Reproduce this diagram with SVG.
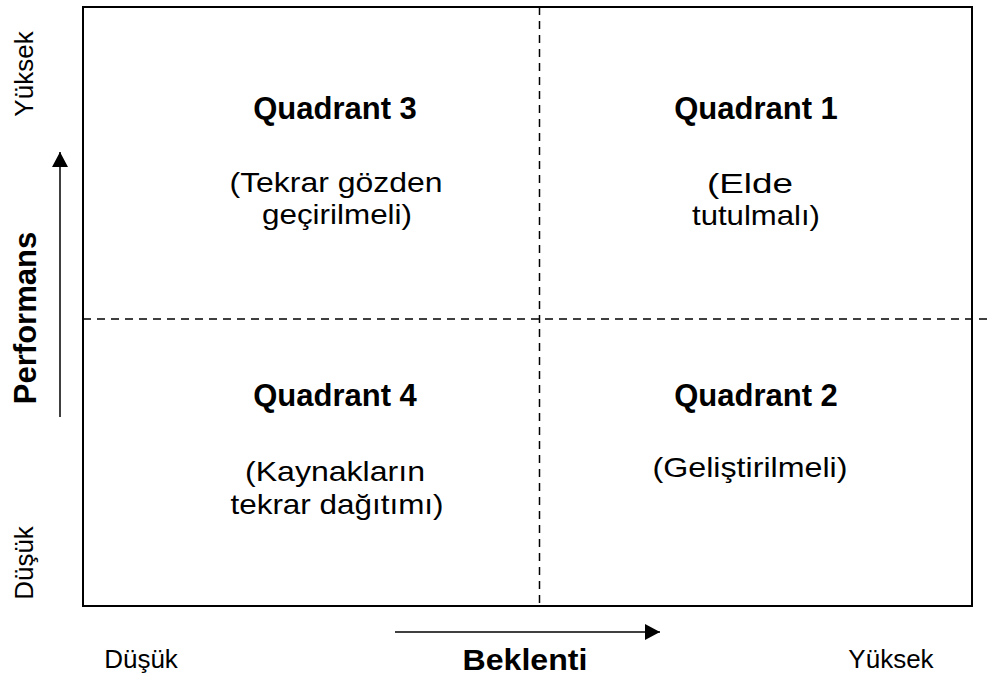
<svg xmlns="http://www.w3.org/2000/svg" width="989" height="677" viewBox="0 0 989 677">
<style>
.t{font-family:"Liberation Sans",Arial,sans-serif;fill:#000;text-anchor:middle}
.b{font-weight:bold;font-size:31px}
.r{font-size:28px}
.s{font-size:26px}
.dash{stroke:#000;stroke-width:1.5;stroke-dasharray:8 6;fill:none}
</style>
<defs>
<marker id="ah" markerUnits="userSpaceOnUse" markerWidth="16" markerHeight="16" refX="15" refY="8" orient="auto">
<path d="M0,0 L15,8 L0,16 Z" fill="#000"/>
</marker>
</defs>
<rect width="989" height="677" fill="#fff"/>
<g id="frame">
<rect x="83" y="7" width="889" height="599" fill="none" stroke="#000" stroke-width="2"/>
</g>
<g id="connectors">
<line class="dash" x1="83" y1="319" x2="989" y2="319"/>
<line class="dash" x1="539.5" y1="7" x2="539.5" y2="606"/>
<line x1="60" y1="417" x2="60" y2="152" stroke="#000" stroke-width="1.5" marker-end="url(#ah)"/>
<line x1="395" y1="632" x2="660" y2="632" stroke="#000" stroke-width="1.5" marker-end="url(#ah)"/>
</g>
<g id="q3">
<text class="t b" x="335" y="119">Quadrant 3</text>
<text class="t r" x="336" y="192" textLength="213" lengthAdjust="spacingAndGlyphs">(Tekrar gözden</text>
<text class="t r" x="337" y="224" textLength="150" lengthAdjust="spacingAndGlyphs">geçirilmeli)</text>
</g>
<g id="q1">
<text class="t b" x="756" y="119">Quadrant 1</text>
<text class="t r" x="750" y="193" textLength="86" lengthAdjust="spacingAndGlyphs">(Elde</text>
<text class="t r" x="756" y="225" textLength="128" lengthAdjust="spacingAndGlyphs">tutulmalı)</text>
</g>
<g id="q4">
<text class="t b" x="335" y="406">Quadrant 4</text>
<text class="t r" x="335" y="481" textLength="180" lengthAdjust="spacingAndGlyphs">(Kaynakların</text>
<text class="t r" x="337" y="514" textLength="213" lengthAdjust="spacingAndGlyphs">tekrar dağıtımı)</text>
</g>
<g id="q2">
<text class="t b" x="756" y="406">Quadrant 2</text>
<text class="t r" x="750" y="477" textLength="195" lengthAdjust="spacingAndGlyphs">(Geliştirilmeli)</text>
</g>
<g id="yaxis">
<text class="t b" transform="translate(36,318) rotate(-90)">Performans</text>
<text class="t s" transform="translate(33,74) rotate(-90)">Yüksek</text>
<text class="t s" transform="translate(33,563) rotate(-90)">Düşük</text>
</g>
<g id="xaxis">
<text class="t s" x="141" y="668">Düşük</text>
<text class="t b" x="525" y="670" style="font-size:29px" textLength="125" lengthAdjust="spacingAndGlyphs">Beklenti</text>
<text class="t s" x="891" y="668">Yüksek</text>
</g>
</svg>
